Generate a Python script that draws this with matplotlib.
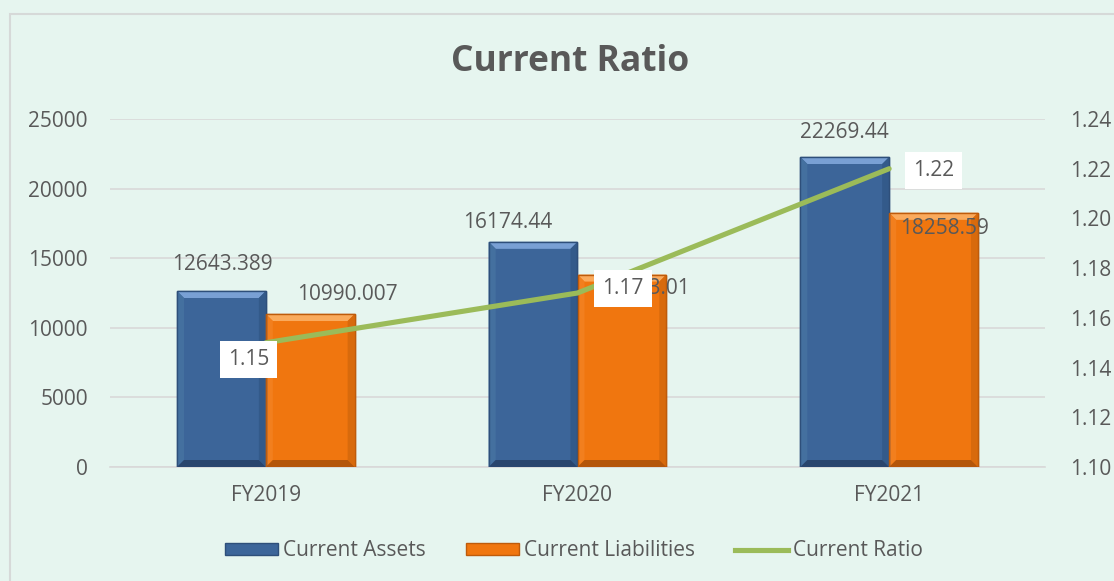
import matplotlib
matplotlib.use("Agg")
import matplotlib.pyplot as plt
from matplotlib.patches import Rectangle, Patch, Polygon
from matplotlib.lines import Line2D
import numpy as np

categories = ["FY2019", "FY2020", "FY2021"]
current_assets = [12643.389, 16174.44, 22269.44]
current_liabilities = [10990.007, 13823.01, 18258.59]
current_ratio = [1.15, 1.17, 1.22]
asset_labels = ["12643.389", "16174.44", "22269.44"]
liab_labels = ["10990.007", "13823.01", "18258.59"]
ratio_labels = ["1.15", "1.17", "1.22"]
left_ticks = [0, 5000, 10000, 15000, 20000, 25000]
right_ticks = [1.10, 1.12, 1.14, 1.16, 1.18, 1.20, 1.22, 1.24]

BG = "#E6F5EF"
TXT = "#595959"
BLUE = "#3C6599"
ORANGE = "#F0760F"
GREEN = "#9BBB59"
BEVEL = {
    BLUE: dict(top="#79A0D4", left="#44709F", right="#335A8A", bottom="#29456D", edge="#2E4F7A"),
    ORANGE: dict(top="#FAAA5C", left="#F27F1E", right="#D86A0C", bottom="#B4560A", edge="#BE5B0B"),
}
FONT = "Open Sans"
FS = 15

plt.rcParams["font.family"] = [FONT, "DejaVu Sans"]

W, H = 1114, 581
fig = plt.figure(figsize=(W / 100, H / 100), dpi=100, facecolor=BG)

# chart border
fig.patches.append(Rectangle((10 / W, -0.1), 1.2, 1 - 14 / H + 0.1, transform=fig.transFigure,
                             fill=False, edgecolor="#D6D9D8", linewidth=1.5))

ax_left, ax_right, ax_top, ax_bot = 110, 1045, 119, 467
ax = fig.add_axes([ax_left / W, 1 - ax_bot / H, (ax_right - ax_left) / W, (ax_bot - ax_top) / H])
ax.set_facecolor("none")
ax2 = ax.twinx()
ax.set_zorder(1)
ax2.set_zorder(2)
ax2.patch.set_visible(False)

x = np.arange(len(categories))
bw = 0.285
ax.set_xlim(-0.5, 2.5)
ax.set_ylim(0, 25000)


def bevel_bars(xs, heights, color):
    bars = ax.bar(xs, heights, bw, color=color, edgecolor=BEVEL[color]["edge"], linewidth=1.0, zorder=3)
    px_x = 3.0 / (ax_right - ax_left)      # data units per pixel (x)
    px_y = 25000.0 / (ax_bot - ax_top)     # data units per pixel (y)
    b = 7
    dx, dy = b * px_x, b * px_y
    c = BEVEL[color]
    for r in bars:
        x0, x1 = r.get_x(), r.get_x() + r.get_width()
        y0, y1 = 0, r.get_height()
        polys = [
            ([(x0, y1), (x1, y1), (x1 - dx, y1 - dy), (x0 + dx, y1 - dy)], c["top"]),
            ([(x0, y0), (x0, y1), (x0 + dx, y1 - dy), (x0 + dx, y0 + dy)], c["left"]),
            ([(x1, y0), (x1, y1), (x1 - dx, y1 - dy), (x1 - dx, y0 + dy)], c["right"]),
            ([(x0, y0), (x1, y0), (x1 - dx, y0 + dy), (x0 + dx, y0 + dy)], c["bottom"]),
        ]
        for pts, col in polys:
            ax.add_patch(Polygon(pts, closed=True, facecolor=col, edgecolor="none", zorder=3.2))
        ax.add_patch(Rectangle((x0, y0), x1 - x0, y1 - y0, fill=False,
                               edgecolor=c["edge"], linewidth=1.0, zorder=3.3))
    return bars


bevel_bars(x - bw / 2, current_assets, BLUE)
bevel_bars(x + bw / 2, current_liabilities, ORANGE)

ax.set_yticks(left_ticks)
ax.set_yticklabels([str(t) for t in left_ticks])
ax.grid(axis="y", color="#D9D9D9", linewidth=1.2, zorder=0)
ax.set_axisbelow(True)
ax.set_xticks(x)
ax.set_xticklabels(categories)
ax.tick_params(axis="both", length=0, labelsize=FS, colors=TXT)
ax.tick_params(axis="y", pad=16)
ax.tick_params(axis="x", pad=13)
for s in ("top", "right", "left"):
    ax.spines[s].set_visible(False)
ax.spines["bottom"].set_color("#D9D9D9")
ax.spines["bottom"].set_linewidth(1.2)

# data labels for bars
asset_offsets = [(1, 19), (-18, 14), (0, 18)]
liab_offsets = [(27, 14), (17, -10), (8, -11)]
for i in range(len(categories)):
    ax.annotate(asset_labels[i], (x[i] - bw / 2, current_assets[i]), xytext=asset_offsets[i],
                textcoords="offset points", ha="center", va="center", fontsize=FS, color=TXT, zorder=5)
    ax.annotate(liab_labels[i], (x[i] + bw / 2, current_liabilities[i]), xytext=liab_offsets[i],
                textcoords="offset points", ha="center", va="center", fontsize=FS, color=TXT, zorder=5)

ax2.plot(x, current_ratio, color=GREEN, linewidth=3.7, solid_capstyle="round", zorder=4)
ax2.set_ylim(1.10, 1.24)
ax2.set_yticks(right_ticks)
ax2.set_yticklabels([f"{t:.2f}" for t in right_ticks])
ax2.tick_params(axis="y", length=0, labelsize=FS, colors=TXT, pad=18)
for s in ax2.spines.values():
    s.set_visible(False)

ratio_offsets = [(-12.6, -12), (32.8, 3), (32, -1)]
for i in range(len(categories)):
    ax2.annotate(ratio_labels[i], (x[i], current_ratio[i]), xytext=ratio_offsets[i],
                 textcoords="offset points", ha="center", va="center", fontsize=FS, color=TXT,
                 bbox=dict(boxstyle="square,pad=0.38", fc="white", ec="none"), zorder=6)

fig.text(570 / W, 1 - 62 / H, "Current Ratio", ha="center", va="center", fontsize=25.5,
         fontweight="bold", color=TXT)

handles = [Patch(facecolor=BLUE, edgecolor=BEVEL[BLUE]["edge"]),
           Patch(facecolor=ORANGE, edgecolor=BEVEL[ORANGE]["edge"]),
           Line2D([0], [0], color=GREEN, linewidth=3.7)]
fig.legend(handles, ["Current Assets", "Current Liabilities", "Current Ratio"], loc="center",
           bbox_to_anchor=(574 / W, 1 - 551 / H), ncol=3, frameon=False, fontsize=FS,
           labelcolor=TXT, handlelength=2.55, handleheight=0.5, handletextpad=0.25, columnspacing=1.9)

fig.savefig("out.png", dpi=100, facecolor=BG)
